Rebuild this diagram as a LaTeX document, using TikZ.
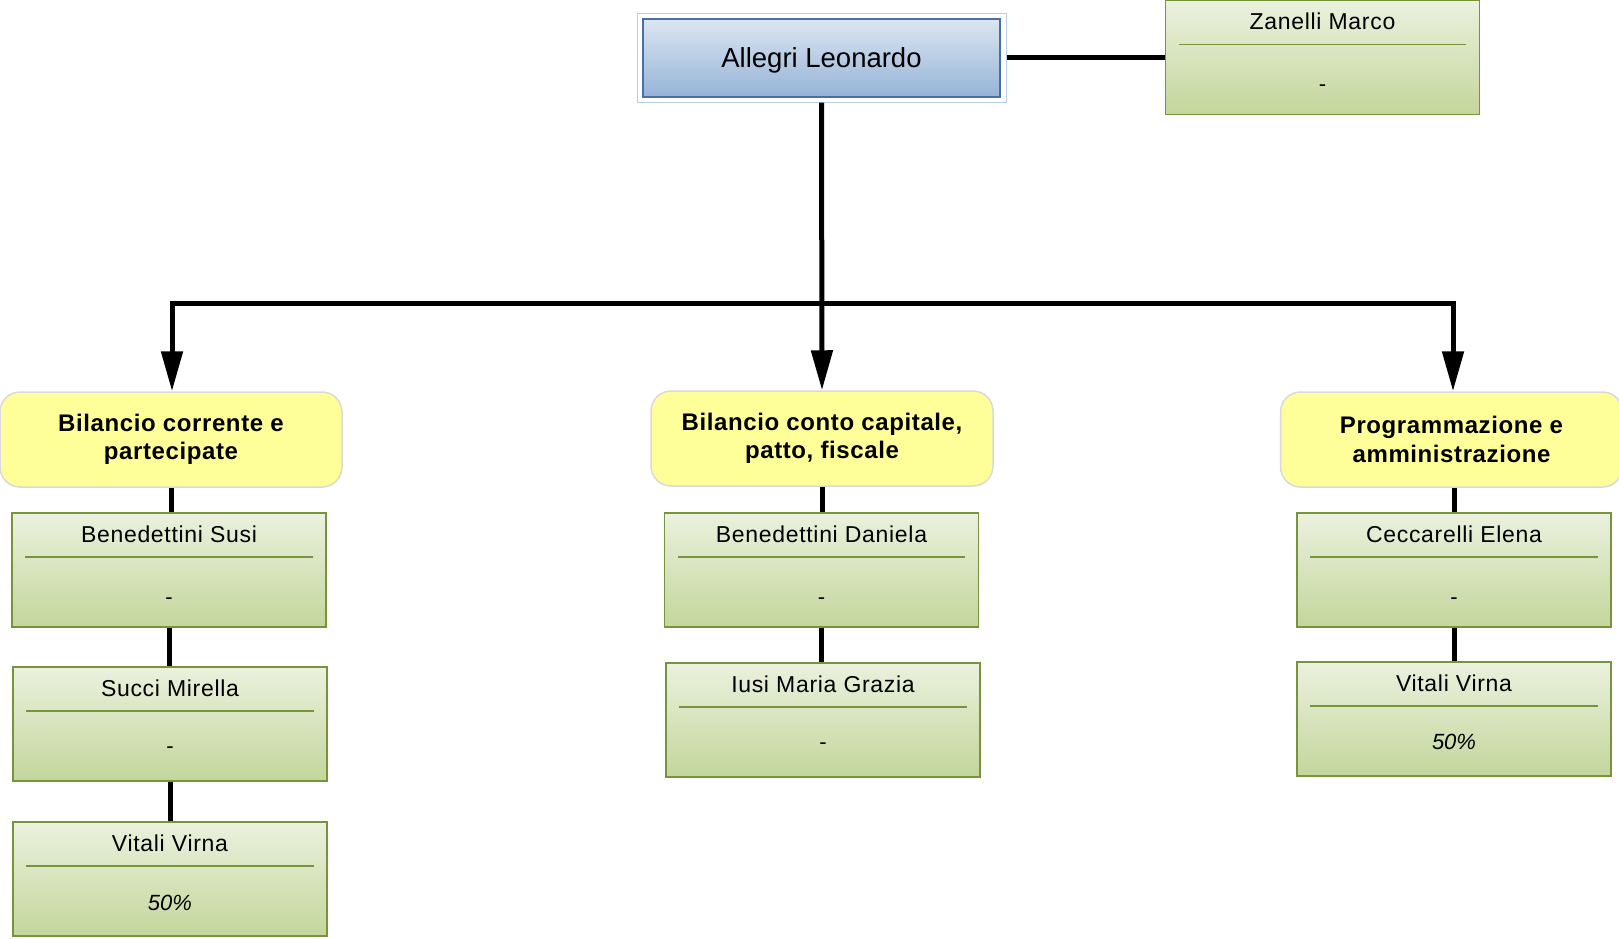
\documentclass[tikz,border=0pt]{standalone}
\usepackage{fontspec}
\setmainfont{Liberation Sans}
\newfontfamily\namefont[LetterSpace=3]{Liberation Sans}
\newfontfamily\yfont[LetterSpace=2.5]{Liberation Sans}
\usetikzlibrary{arrows.meta,calc}
\definecolor{gtop}{HTML}{EBF1DE}
\definecolor{gbot}{HTML}{C3D69B}
\definecolor{gline}{HTML}{77933C}
\definecolor{btop}{HTML}{DCE6F2}
\definecolor{bbot}{HTML}{95B3D7}
\definecolor{bline}{HTML}{4A6FA5}
\definecolor{bouter}{HTML}{B9CDE5}
\definecolor{yfill}{HTML}{FFFF99}
\definecolor{yline}{HTML}{D9D9D9}
\tikzset{
  greenbox/.style={rectangle, draw=gline, line width=1.3pt, top color=gtop, bottom color=gbot,
    minimum width=314pt, minimum height=114pt, inner sep=0pt},
  nametxt/.style={font=\namefont\fontsize{23}{27}\selectfont, inner sep=0pt},
  valtxt/.style={font=\fontsize{22}{26}\selectfont, inner sep=0pt},
  sepline/.style={draw=gline, line width=1.2pt},
  yellowbox/.style={rectangle, rounded corners=20pt, fill=yfill, draw=yline, line width=1.5pt,
    minimum width=342pt, minimum height=95pt, align=center, inner sep=0pt,
    font=\yfont\fontsize{24}{28.5}\selectfont\bfseries},
  conn/.style={line width=5pt, black},
  arr/.style={-{Triangle[length=40pt,width=21pt]}}
}
\newcommand\pbox[6]{%
  \node[greenbox] (#1) at (#2,#3) {};
  \node[nametxt, anchor=base] (#1-name) at ($(#1.center)+(0,-28)$) {#4};
  \draw[sepline] ($(#1.west)+(14,-13)$) -- ($(#1.east)+(-14,-13)$);
  \node[valtxt] (#1-val) at ($(#1.center)+(0,#6)$) {#5};
}
\begin{document}
\begin{tikzpicture}[x=1pt,y=-1pt]
\useasboundingbox (0,0) rectangle (1619,938);
% top
\node[rectangle, draw=bouter, line width=1pt, minimum width=369pt, minimum height=89pt, inner sep=0pt]
  (allegriouter) at (821.5,57.5) {};
\node[rectangle, draw=bline, line width=1.5pt, top color=btop, bottom color=bbot,
  minimum width=357pt, minimum height=78pt, inner sep=0pt]
  (allegri) at (821.5,58) {};
\node[font=\fontsize{27.5}{32}\selectfont, inner sep=0pt, anchor=base] (allegri-name) at (821.5,67.5) {Allegri Leonardo};
\pbox{zanelli}{1322.5}{57.5}{Zanelli Marco}{-}{31}
% yellow boxes
\node[yellowbox] (y1) at (171,439.5) {Bilancio corrente e\\partecipate};
\node[yellowbox] (y2) at (822,438.5) {Bilancio conto capitale,\\patto, fiscale};
\node[yellowbox] (y3) at (1451.5,439.5) {Programmazione e\\amministrazione};
% people
\pbox{susi}{169}{570}{Benedettini Susi}{-}{31}
\pbox{succi}{170}{724}{Succi Mirella}{-}{26}
\pbox{vitalia}{170}{879}{Vitali Virna}{\itshape 50\%}{24}
\pbox{daniela}{821.5}{570}{Benedettini Daniela}{-}{31}
\pbox{iusi}{823}{720}{Iusi Maria Grazia}{-}{26}
\pbox{cecc}{1454}{570}{Ceccarelli Elena}{-}{31}
\pbox{vitalib}{1454}{719}{Vitali Virna}{\itshape 50\%}{23}
% connectors
\draw[conn] (allegriouter.east) -- (zanelli.west);
\coordinate (bus) at (822,303);
\draw[conn,arr] (allegriouter.south) -- (y2.north);
\draw[conn,arr] (bus) -| ([xshift=1pt]y1.north);
\draw[conn,arr] (bus) -| ([xshift=1.5pt]y3.north);
\draw[conn] (y1.south) -- (y1.south |- susi.north);
\draw[conn] (susi.south) -- (susi.south |- succi.north);
\draw[conn] (succi.south) -- (succi.south |- vitalia.north);
\draw[conn] (y2.south) -- (y2.south |- daniela.north);
\draw[conn] (daniela.south) -- (daniela.south |- iusi.north);
\draw[conn] (cecc.south) -- (cecc.south |- vitalib.north);
\draw[conn] (y3.south -| cecc.south) -- (cecc.north);
\end{tikzpicture}
\end{document}
